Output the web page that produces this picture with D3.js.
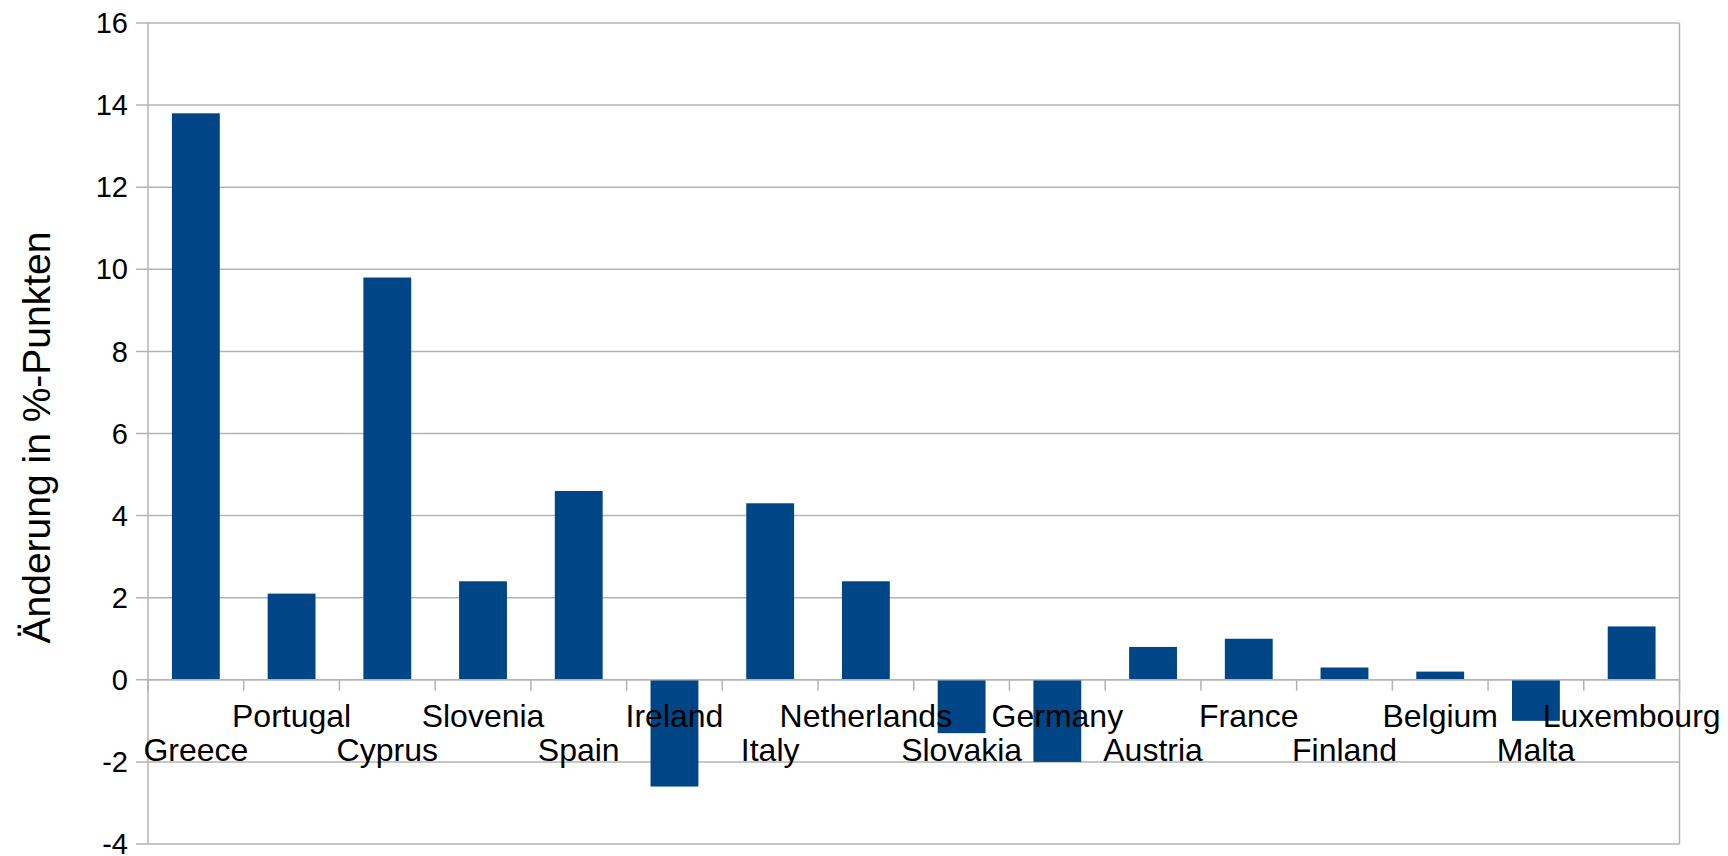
<!DOCTYPE html>
<html lang="de">
<head>
<meta charset="UTF-8">
<title>Änderung in %-Punkten</title>
<script src="https://cdnjs.cloudflare.com/ajax/libs/d3/7.8.5/d3.min.js"></script>
<style>
  body { margin: 0; background: #fff; }
  svg { display: block; font-family: "Liberation Sans", Arial, sans-serif; }
</style>
</head>
<body>
<svg id="chart" width="1728" height="856"></svg>
<script>
// Daten
const countries = ["Greece", "Portugal", "Cyprus", "Slovenia", "Spain", "Ireland", "Italy", "Netherlands",
  "Slovakia", "Germany", "Austria", "France", "Finland", "Belgium", "Malta", "Luxembourg"];
const changes = [13.8, 2.1, 9.8, 2.4, 4.6, -2.6, 4.3, 2.4, -1.3, -2.0, 0.8, 1.0, 0.3, 0.2, -1.0, 1.3];
const yTicks = [-4, -2, 0, 2, 4, 6, 8, 10, 12, 14, 16];
const yTitle = "Änderung in %-Punkten";

const margin = { top: 23, right: 48.5, bottom: 12, left: 148 };
const width = 1728, height = 856;

const svg = d3.select("#chart");

const x = d3.scaleBand()
  .domain(countries)
  .range([margin.left, width - margin.right])
  .paddingInner(0.5)
  .paddingOuter(0.25);

const y = d3.scaleLinear()
  .domain([-4, 16])
  .range([height - margin.bottom, margin.top]);

const gridColor = "#b3b3b3";

// Gitterlinien
svg.append("g")
  .selectAll("line")
  .data(yTicks)
  .join("line")
  .attr("x1", margin.left - 12)
  .attr("x2", width - margin.right)
  .attr("y1", d => y(d))
  .attr("y2", d => y(d))
  .attr("stroke", gridColor)
  .attr("stroke-width", 1.5);

// Rahmen links / rechts
[margin.left, width - margin.right].forEach(xx => {
  svg.append("line")
    .attr("x1", xx).attr("x2", xx)
    .attr("y1", y(16)).attr("y2", y(-4))
    .attr("stroke", gridColor)
    .attr("stroke-width", 1.5);
});

// Balken
svg.append("g")
  .selectAll("rect")
  .data(countries)
  .join("rect")
  .attr("x", d => x(d))
  .attr("width", x.bandwidth())
  .attr("y", (d, i) => y(Math.max(0, changes[i])))
  .attr("height", (d, i) => Math.abs(y(changes[i]) - y(0)))
  .attr("fill", "#004586");

// Nulllinie + Ticks auf der x-Achse
svg.append("line")
  .attr("x1", margin.left).attr("x2", width - margin.right)
  .attr("y1", y(0)).attr("y2", y(0))
  .attr("stroke", gridColor)
  .attr("stroke-width", 1.5);

const colW = (width - margin.left - margin.right) / countries.length;
svg.append("g")
  .selectAll("line")
  .data(d3.range(countries.length + 1))
  .join("line")
  .attr("x1", i => margin.left + colW * i)
  .attr("x2", i => margin.left + colW * i)
  .attr("y1", y(0))
  .attr("y2", y(0) + 11)
  .attr("stroke", gridColor)
  .attr("stroke-width", 1.5);

// y-Achse Beschriftung
svg.append("g")
  .selectAll("text")
  .data(yTicks)
  .join("text")
  .attr("x", margin.left - 20)
  .attr("y", d => y(d))
  .attr("dy", "0.35em")
  .attr("text-anchor", "end")
  .attr("font-size", 29)
  .attr("fill", "#000")
  .text(d => d);

// x-Achse Beschriftung (versetzt in zwei Reihen)
svg.append("g")
  .selectAll("text")
  .data(countries)
  .join("text")
  .attr("x", d => x(d) + x.bandwidth() / 2)
  .attr("y", (d, i) => i % 2 === 1 ? 727 : 761)
  .attr("text-anchor", "middle")
  .attr("font-size", 32)
  .attr("fill", "#000")
  .text(d => d);

// Achsentitel
svg.append("text")
  .attr("transform", `translate(50, ${(y(16) + y(-4)) / 2 + 4}) rotate(-90)`)
  .attr("text-anchor", "middle")
  .attr("font-size", 39)
  .attr("fill", "#000")
  .text(yTitle);
</script>
</body>
</html>
